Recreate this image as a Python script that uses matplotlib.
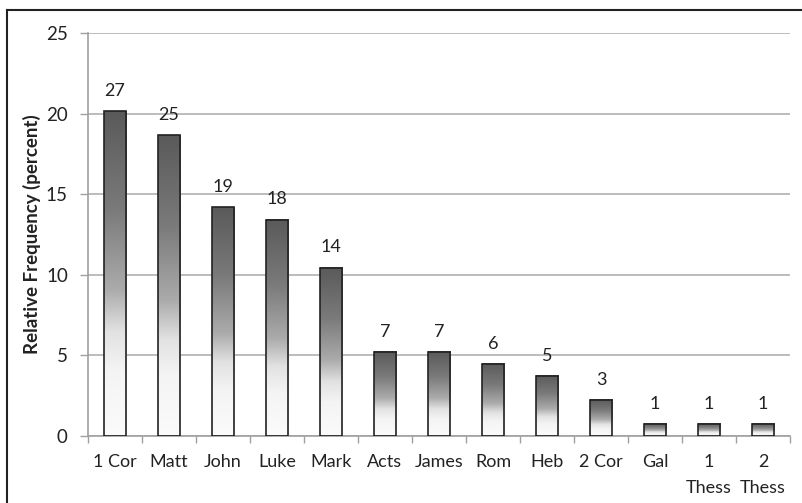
import matplotlib
matplotlib.use("Agg")
import matplotlib.pyplot as plt
import numpy as np
from matplotlib.colors import LinearSegmentedColormap
from matplotlib.lines import Line2D

plt.rcParams['font.family'] = ['Lato', 'DejaVu Sans']

books = ["1 Cor", "Matt", "John", "Luke", "Mark", "Acts", "James", "Rom", "Heb", "2 Cor", "Gal", "1\nThess", "2\nThess"]
counts = [27, 25, 19, 18, 14, 7, 7, 6, 5, 3, 1, 1, 1]
rel_freq = [20.15, 18.66, 14.18, 13.43, 10.45, 5.22, 5.22, 4.48, 3.73, 2.24, 0.75, 0.75, 0.75]
yticks = [0, 5, 10, 15, 20, 25]

fig = plt.figure(figsize=(8.03, 5.03), dpi=100)
ax = fig.add_axes([88/803, 1-436/503, 702/803, 403/503])

x = np.arange(len(books))
width = 0.41
cmap = LinearSegmentedColormap.from_list(
    "g", [(0.0, "#fbfbfb"), (0.2, "#f4f4f4"), (0.32, "#e2e2e2"), (0.45, "#ababab"),
          (0.7, "#7a7a7a"), (1.0, "#5a5a5a")])
grad = np.linspace(0, 1, 256).reshape(-1, 1)

bars = ax.bar(x, rel_freq, width=width, facecolor='none', edgecolor='#222222', linewidth=1.2, zorder=3)
for b, v in zip(bars, rel_freq):
    x0 = b.get_x()
    ax.imshow(grad, cmap=cmap, aspect='auto', origin='lower',
              extent=[x0, x0 + width, 0, v], zorder=2, interpolation='bilinear')
for xi, v, c in zip(x, rel_freq, counts):
    ax.text(xi, v + 0.75, str(c), ha='center', va='bottom', fontsize=13, color='#222222')

ax.set_xlim(-0.5, len(books) - 0.5)
ax.set_ylim(0, 25)
ax.set_yticks(yticks)
ax.set_yticklabels([str(t) for t in yticks], fontsize=13.5, color='#222222')
ax.set_xticks(x)
ax.set_xticklabels(books, fontsize=13, color='#222222', linespacing=1.8, va='top')
ax.set_xticks(np.arange(len(books) + 1) - 0.5, minor=True)
ax.tick_params(axis='x', which='major', length=0, pad=13)
ax.tick_params(axis='x', which='minor', length=5, color='#a0a0a0', width=1)
ax.tick_params(axis='y', length=6, color='#a0a0a0', width=1, pad=8.5)
ax.yaxis.grid(True, color='#b0b0b0', linewidth=1.2, zorder=0)
ax.set_axisbelow(True)
for s in ['top', 'right']:
    ax.spines[s].set_visible(False)
for s in ['left', 'bottom']:
    ax.spines[s].set_color('#a0a0a0')
    ax.spines[s].set_linewidth(1.2)
ax.set_ylabel("Relative Frequency (percent)", fontsize=13.5, fontweight='bold', color='#222222')
ax.yaxis.set_label_coords(-0.067, 0.5)

fig.add_artist(Line2D([7/803, 7/803], [0, 1-10/503], transform=fig.transFigure, color='#222222', linewidth=1.5))
fig.add_artist(Line2D([7/803, 1], [1-10/503, 1-10/503], transform=fig.transFigure, color='#222222', linewidth=1.5))

fig.savefig("out.png", dpi=100)
